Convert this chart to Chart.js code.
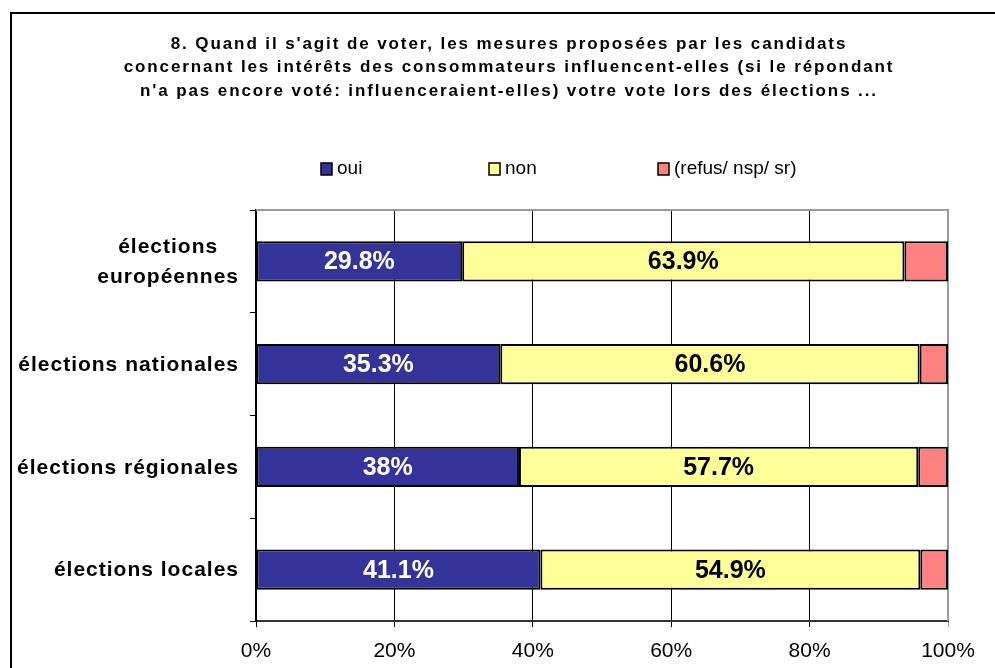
<!DOCTYPE html>
<html><head><meta charset="utf-8">
<script src="https://cdn.jsdelivr.net/npm/chart.js@4/dist/chart.umd.min.js"></script>
<style>html,body{margin:0;padding:0;background:#fff;}#wrap{width:995px;height:668px;position:relative;}</style>
</head><body><div id="wrap"><canvas id="c" width="995" height="668"></canvas></div>
<script>
const categories = [["élections","européennes"], "élections nationales", "élections régionales", "élections locales"];
const seriesNames = ["oui", "non", "(refus/ nsp/ sr)"];
const oui = [29.8, 35.3, 38, 41.1];
const non = [63.9, 60.6, 57.7, 54.9];
const refus = [6.3, 4.1, 4.3, 4.0];
const xTicks = [0, 20, 40, 60, 80, 100];
const titleLines = [
  "8. Quand il s'agit de voter, les mesures proposées par les candidats",
  "concernant les intérêts des consommateurs influencent-elles (si le répondant",
  "n'a pas encore voté: influenceraient-elles) votre vote lors des élections ..."
];
const colors = ["#333399", "#FFFF99", "#FF8080"];
const FONT = '"Liberation Sans", Arial, sans-serif';

const deco = {
  id: 'deco',
  beforeDraw(chart) {
    const ctx = chart.ctx;
    ctx.save();
    ctx.fillStyle = '#fff';
    ctx.fillRect(0, 0, chart.width, chart.height);
    ctx.strokeStyle = '#000';
    ctx.lineWidth = 2;
    ctx.strokeRect(11, 13, 1100, 800);
    // title
    ctx.fillStyle = '#000';
    ctx.font = 'bold 17px ' + FONT;
    ctx.letterSpacing = '1.9px';
    ctx.textAlign = 'center';
    ctx.textBaseline = 'middle';
    titleLines.forEach((t, i) => ctx.fillText(t, 509, 44 + i * 23.5));
    ctx.letterSpacing = '0px';
    // legend
    const lx = [321, 489, 658];
    ctx.font = '19px ' + FONT;
    ctx.textAlign = 'left';
    chart.data.datasets.forEach((ds, i) => {
      ctx.fillStyle = ds.backgroundColor;
      ctx.fillRect(lx[i], 163, 11, 12);
      ctx.strokeStyle = '#000';
      ctx.lineWidth = 1.5;
      ctx.strokeRect(lx[i], 163, 11, 12);
      ctx.fillStyle = '#000';
      ctx.fillText(ds.label, lx[i] + 16, 169);
    });
    ctx.restore();
  },
  beforeDatasetsDraw(chart) {
    const {ctx, chartArea: a} = chart;
    ctx.save();
    ctx.strokeStyle = '#999';
    ctx.lineWidth = 2;
    ctx.beginPath();
    ctx.moveTo(a.left, a.top);
    ctx.lineTo(a.right, a.top);
    ctx.lineTo(a.right, a.bottom);
    ctx.stroke();
    ctx.restore();
  },
  afterDatasetsDraw(chart) {
    const ctx = chart.ctx;
    ctx.save();
    ctx.font = 'bold 25px ' + FONT;
    ctx.textAlign = 'center';
    ctx.textBaseline = 'middle';
    [0, 1].forEach(di => {
      const meta = chart.getDatasetMeta(di);
      meta.data.forEach((bar, i) => {
        const v = chart.data.datasets[di].data[i];
        const cx = (bar.x + bar.base) / 2;
        ctx.fillStyle = di === 0 ? '#fff' : '#000';
        ctx.fillText(v + '%', cx, bar.y + 1);
      });
    });
    // y labels
    const ys = chart.scales.y;
    ctx.font = 'bold 21px ' + FONT;
    ctx.letterSpacing = '1px';
    ctx.fillStyle = '#000';
    const rightX = ys.right - 17;
    categories.forEach((lab, i) => {
      const y = ys.getPixelForValue(i);
      if (Array.isArray(lab)) {
        const w = Math.max(...lab.map(l => ctx.measureText(l).width));
        const cx = rightX - w / 2;
        ctx.textAlign = 'center';
        lab.forEach((l, j) => ctx.fillText(l, cx, y - 15 * (lab.length - 1) + 30 * j + 1));
      } else {
        ctx.textAlign = 'right';
        ctx.fillText(lab, rightX, y + 1);
      }
    });
    ctx.restore();
  }
};

const datasets = [oui, non, refus].map((d, i) => ({
  label: seriesNames[i],
  data: d,
  backgroundColor: colors[i],
  borderColor: '#000',
  borderWidth: 2,
  borderSkipped: false,
  categoryPercentage: 1,
  barPercentage: 0.39
}));

new Chart(document.getElementById('c'), {
  type: 'bar',
  data: { labels: categories, datasets },
  plugins: [deco],
  options: {
    indexAxis: 'y',
    responsive: false,
    animation: false,
    layout: { padding: { left: 10, top: 210, right: 47, bottom: 0 } },
    plugins: { legend: { display: false }, title: { display: false }, tooltip: { enabled: false } },
    scales: {
      x: {
        stacked: true, min: 0, max: 100,
        afterBuildTicks: s => { s.ticks = xTicks.map(v => ({ value: v })); },
        afterFit: s => { s.height = 47; },
        ticks: { callback: v => v + '%', color: '#000', font: { family: FONT, size: 21 }, padding: 12, maxRotation: 0 },
        grid: { color: ctx => (ctx.tick && ctx.tick.value === 100) ? '#999' : '#000', lineWidth: 1, tickLength: 6, drawOnChartArea: true },
        border: { color: '#333', width: 2 }
      },
      y: {
        stacked: true,
        afterFit: s => { s.width = 246; },
        ticks: { display: false },
        grid: { offset: true, drawOnChartArea: false, tickLength: 6, color: '#000', lineWidth: 1 },
        border: { color: '#000', width: 2 }
      }
    }
  }
});
</script>
</body></html>
